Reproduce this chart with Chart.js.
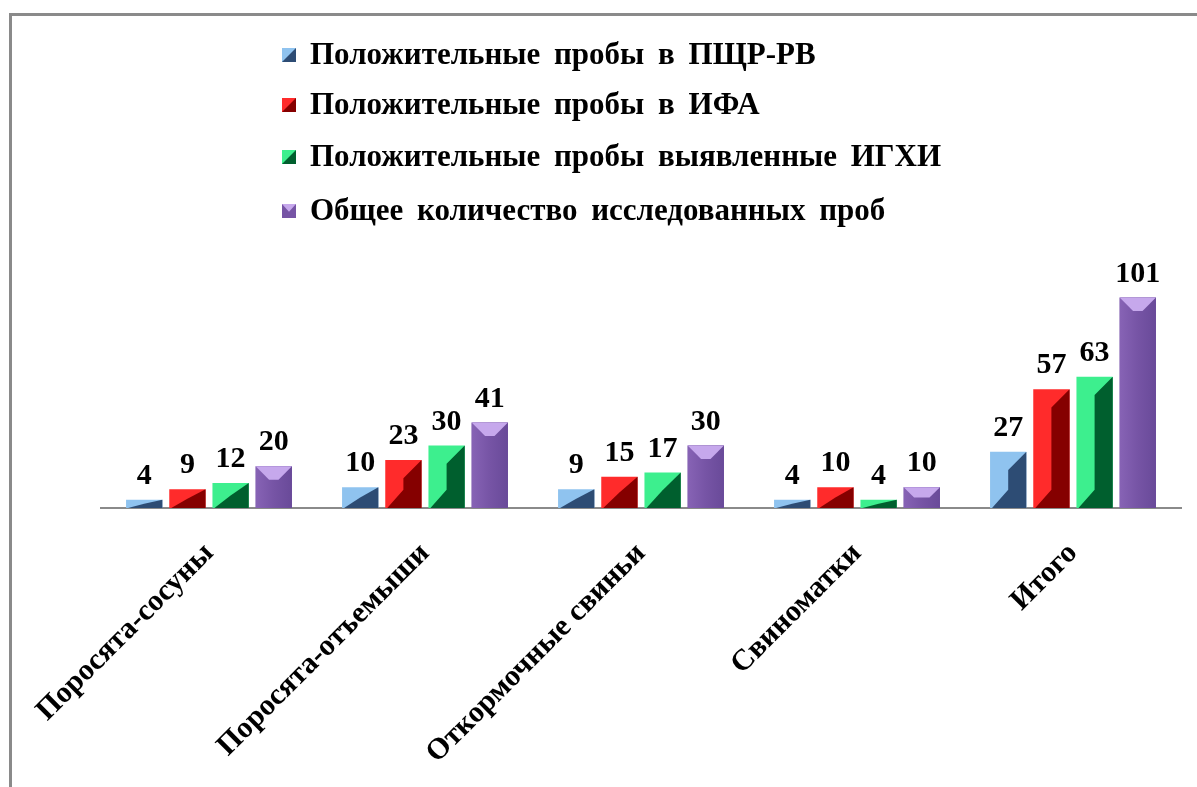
<!DOCTYPE html>
<html>
<head>
<meta charset="utf-8">
<script src="https://cdn.jsdelivr.net/npm/chart.js@4.4.1/dist/chart.umd.min.js"></script>
<style>
  html, body { margin: 0; padding: 0; background: #fff; }
  #wrap { position: relative; width: 1197px; height: 787px; overflow: hidden; }
  #frame { position: absolute; left: 9px; top: 13px; width: 1400px; height: 1000px;
           border-left: 3px solid #8a8a8a; border-top: 3px solid #8a8a8a; box-sizing: border-box; }
  #chart { position: absolute; left: 0; top: 0; }
</style>
</head>
<body>
<div id="wrap">
  <div id="frame"></div>
  <canvas id="chart" width="1197" height="787"></canvas>
</div>
<script>
// Categories and series values
const categories = ['Поросята-сосуны', 'Поросята-отъемыши', 'Откормочные свиньи', 'Свиноматки', 'Итого'];
const seriesNames = [
  'Положительные пробы в ПЩР-РВ',
  'Положительные пробы в ИФА',
  'Положительные пробы выявленные ИГХИ',
  'Общее количество исследованных проб'
];
const pcrPositive = [4, 10, 9, 4, 27];
const ifaPositive = [9, 23, 15, 10, 57];
const ighPositive = [12, 30, 17, 4, 63];
const totalSamples = [20, 41, 30, 10, 101];

// Face / shadow colours per series
const lightColors = ['#8fc3ef', '#ff2b2b', '#3def8e', '#7a58a8'];
const darkColors  = ['#2d4c74', '#850000', '#005f2e', '#c6a8ec'];

const SERIF = '"Liberation Serif", "Times New Roman", serif';

// Bevelled face drawn over each bar from its element geometry
const bevelPlugin = {
  id: 'bevel',
  afterDatasetsDraw(chart) {
    const ctx = chart.ctx;
    chart.data.datasets.forEach((ds, di) => {
      const meta = chart.getDatasetMeta(di);
      meta.data.forEach(el => {
        const p = el.getProps(['x', 'y', 'base', 'width'], true);
        const L = p.x - p.width / 2, R = p.x + p.width / 2, M = p.x;
        const top = Math.min(p.y, p.base), bot = Math.max(p.y, p.base);
        const h = bot - top;
        ctx.save();
        if (di < 3) {
          const k = Math.min(p.width / 2, h / 2);
          ctx.fillStyle = darkColors[di];
          ctx.beginPath();
          ctx.moveTo(R, top);
          ctx.lineTo(M, top + k);
          ctx.lineTo(M, bot - k);
          ctx.lineTo(L + 2, bot);
          ctx.lineTo(R, bot);
          ctx.closePath();
          ctx.fill();
        } else {
          const g = ctx.createLinearGradient(L, 0, R, 0);
          g.addColorStop(0, '#8763b5');
          g.addColorStop(0.5, '#7654a5');
          g.addColorStop(1, '#694a99');
          ctx.fillStyle = g;
          ctx.fillRect(L, top, R - L, h);
          const k = Math.min(p.width * 0.37, h / 2);
          ctx.fillStyle = darkColors[di];
          ctx.beginPath();
          ctx.moveTo(L, top);
          ctx.lineTo(R, top);
          ctx.lineTo(R - k, top + k);
          ctx.lineTo(L + k, top + k);
          ctx.closePath();
          ctx.fill();
        }
        ctx.restore();
      });
    });
  }
};

// Value labels above bars
const valueLabelPlugin = {
  id: 'valueLabels',
  afterDatasetsDraw(chart) {
    const ctx = chart.ctx;
    ctx.save();
    ctx.font = 'bold 30px ' + SERIF;
    ctx.fillStyle = '#000';
    ctx.textAlign = 'center';
    ctx.textBaseline = 'alphabetic';
    chart.data.datasets.forEach((ds, di) => {
      chart.getDatasetMeta(di).data.forEach((el, i) => {
        const p = el.getProps(['x', 'y'], true);
        ctx.fillText(String(ds.data[i]), p.x, p.y - 16);
      });
    });
    ctx.restore();
  }
};

// Stacked legend in the upper area
const legendPlugin = {
  id: 'stackedLegend',
  afterDraw(chart) {
    const ctx = chart.ctx;
    const x0 = 282, tx = 310, ys = [55, 105, 157, 211], s = 14;
    ctx.save();
    chart.data.datasets.forEach((ds, di) => {
      const y = ys[di];
      const bx = x0, by = y - s / 2;
      if (di < 3) {
        ctx.fillStyle = lightColors[di];
        ctx.fillRect(bx, by, s, s);
        ctx.fillStyle = darkColors[di];
        ctx.beginPath();
        ctx.moveTo(bx + s, by);
        ctx.lineTo(bx + s, by + s);
        ctx.lineTo(bx, by + s);
        ctx.closePath();
        ctx.fill();
      } else {
        ctx.fillStyle = '#7654a5';
        ctx.fillRect(bx, by, s, s);
        ctx.fillStyle = darkColors[di];
        ctx.beginPath();
        ctx.moveTo(bx, by);
        ctx.lineTo(bx + s, by);
        ctx.lineTo(bx + s / 2, by + s * 0.55);
        ctx.closePath();
        ctx.fill();
      }
      ctx.fillStyle = '#000';
      ctx.font = 'bold 31px ' + SERIF;
      ctx.textAlign = 'left';
      ctx.textBaseline = 'middle';
      if ('wordSpacing' in ctx) ctx.wordSpacing = '6px';
      ctx.fillText(ds.label, tx, y + 1);
    });
    ctx.restore();
  }
};

const datasets = [pcrPositive, ifaPositive, ighPositive, totalSamples].map((vals, i) => ({
  label: seriesNames[i],
  data: vals,
  backgroundColor: lightColors[i],
  borderWidth: 0,
  categoryPercentage: 0.8,
  barPercentage: 0.84
}));

new Chart(document.getElementById('chart'), {
  type: 'bar',
  data: { labels: categories, datasets },
  options: {
    responsive: false,
    animation: false,
    layout: { padding: { top: 258, left: 101, right: 16, bottom: 0 } },
    plugins: { legend: { display: false }, tooltip: { enabled: false } },
    scales: {
      x: {
        grid: { display: false },
        border: { display: true, color: '#8a8a8a', width: 2 },
        ticks: {
          color: '#000',
          font: { family: SERIF, size: 30, weight: 'bold' },
          minRotation: 45,
          maxRotation: 45,
          autoSkip: false,
          padding: 20
        },
        afterFit(scale) { scale.height = 279; }
      },
      y: {
        display: false,
        min: 0,
        max: 120
      }
    }
  },
  plugins: [bevelPlugin, valueLabelPlugin, legendPlugin]
});
</script>
</body>
</html>
